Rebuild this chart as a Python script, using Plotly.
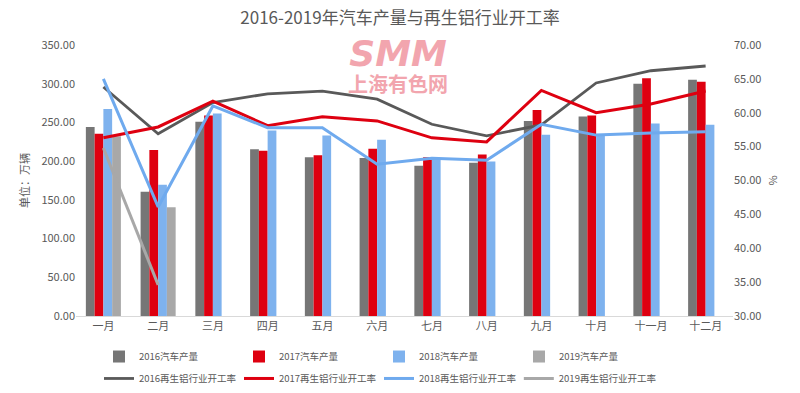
import plotly.graph_objects as go

months = ["一月", "二月", "三月", "四月", "五月", "六月", "七月", "八月", "九月", "十月", "十一月", "十二月"]

prod_2016 = [244, 160.5, 251, 215.5, 205, 204, 194, 198, 252, 257.5, 300, 305]
prod_2017 = [235.5, 214.5, 259, 213.5, 207.5, 216, 205, 208.5, 266, 259, 307, 302.5]
prod_2018 = [267.5, 169.5, 261.5, 239.5, 233, 227.5, 203.5, 199.5, 234, 234, 248.5, 247]
prod_2019 = [232, 140.5, None, None, None, None, None, None, None, None, None, None]

rate_2016 = [63.8, 56.9, 61.5, 62.8, 63.2, 62.0, 58.3, 56.6, 58.2, 64.4, 66.2, 66.9]
rate_2017 = [56.3, 57.9, 61.7, 58.1, 59.4, 58.8, 56.3, 55.7, 63.3, 60.0, 61.3, 63.2]
rate_2018 = [65.0, 46.1, 61.0, 57.8, 57.8, 52.4, 53.3, 53.0, 58.3, 56.7, 57.0, 57.2]
rate_2019 = [54.8, 34.6, None, None, None, None, None, None, None, None, None, None]

bar_names = ["2016汽车产量", "2017汽车产量", "2018汽车产量", "2019汽车产量"]
line_names = ["2016再生铝行业开工率", "2017再生铝行业开工率", "2018再生铝行业开工率", "2019再生铝行业开工率"]
bar_colors = ["#767676", "#DE0010", "#7EB2EE", "#A8A8A8"]
line_colors = ["#595959", "#DE0010", "#6FAAEE", "#A8A8A8"]
line_widths = [2.8, 3, 3, 3]
line_legends = ["legend2", "legend2", "legend2", "legend3"]

FONT = "Noto Sans CJK SC"
TXT = "#595959"

fig = go.Figure()
for name, vals, col in zip(bar_names, [prod_2016, prod_2017, prod_2018, prod_2019], bar_colors):
    fig.add_trace(go.Bar(x=months, y=vals, name=name, marker=dict(color=col, line=dict(width=0)),
                         legend="legend", yaxis="y"))
for name, vals, col, w, lg in zip(line_names, [rate_2016, rate_2017, rate_2018, rate_2019],
                                  line_colors, line_widths, line_legends):
    fig.add_trace(go.Scatter(x=months, y=vals, name=name, mode="lines",
                             line=dict(color=col, width=w), legend=lg, yaxis="y2",
                             connectgaps=False))

leg_common = dict(orientation="h", xanchor="left", yanchor="top",
                  entrywidth=95, entrywidthmode="pixels", font=dict(size=9.5, color=TXT, family=FONT),
                  itemwidth=30, tracegroupgap=0, bgcolor="rgba(0,0,0,0)", borderwidth=0)

fig.update_layout(
    width=800, height=393,
    margin=dict(l=76, r=67, t=45, b=77, autoexpand=False),
    paper_bgcolor="white", plot_bgcolor="white",
    font=dict(family=FONT, color=TXT, size=11),
    title=dict(text="2016-2019年汽车产量与再生铝行业开工率", x=0.5, xanchor="center",
               yref="container", y=0.954, yanchor="middle",
               font=dict(family=FONT, size=17, color=TXT)),
    barmode="group", bargap=0.36, bargroupgap=0,
    xaxis=dict(showgrid=False, showline=True, linecolor="#D9D9D9", linewidth=1,
               ticks="", tickfont=dict(size=11, color=TXT)),
    yaxis=dict(range=[0, 350], dtick=50, tickformat=".2f", showgrid=False, zeroline=False,
               showline=False, tickfont=dict(size=11, color=TXT),
               title=dict(text="单位：万辆", font=dict(size=11, color=TXT), standoff=9)),
    yaxis2=dict(range=[30, 70], dtick=5, tickformat=".2f", overlaying="y", side="right",
                showgrid=False, zeroline=False, showline=False, tickfont=dict(size=11, color=TXT),
                title=dict(text="%", font=dict(size=11, color=TXT), standoff=8)),
    legend=dict(x=0.035, y=-0.096, **leg_common),
    legend2=dict(x=0.035, y=-0.177, **leg_common),
    legend3=dict(x=0.674, y=-0.177, **leg_common),
    showlegend=True,
)

# watermark (single text block)
fig.add_annotation(
    text="<b><i><span style='font-size:36px'>SMM</span></i></b><br><b>上海有色网</b>",
    xref="paper", yref="paper", x=0.49, y=0.928,
    xanchor="center", yanchor="middle", showarrow=False, align="center",
    font=dict(family="DejaVu Sans, Noto Sans CJK SC", size=20, color="#F2A5AE"))

fig.write_html("out.html", config={"displayModeBar": False},
               post_script="document.body.style.margin='0';")
